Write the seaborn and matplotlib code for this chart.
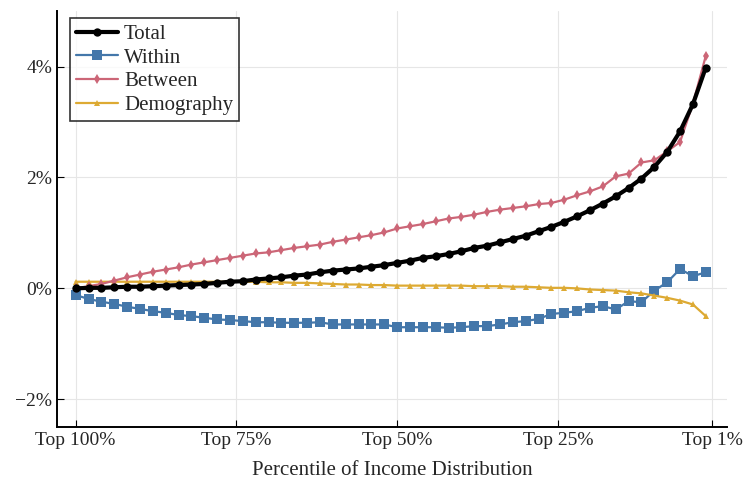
import numpy as np
import pandas as pd
import seaborn as sns
import matplotlib.pyplot as plt
from matplotlib.ticker import FuncFormatter

# ─── DATA ─────────────────────────────────────────
# x = 100 - top percentile (0 = Top 100%, 99 = Top 1%)
pctl = list(range(0, 100, 2))

total = [0.00, 0.01, 0.01, 0.02, 0.03, 0.03, 0.04, 0.05, 0.06, 0.07,
         0.08, 0.10, 0.12, 0.13, 0.16, 0.18, 0.20, 0.23, 0.25, 0.29,
         0.32, 0.34, 0.36, 0.39, 0.42, 0.46, 0.50, 0.55, 0.58, 0.62,
         0.67, 0.73, 0.77, 0.83, 0.89, 0.95, 1.03, 1.11, 1.20, 1.30,
         1.41, 1.53, 1.66, 1.81, 1.98, 2.19, 2.46, 2.83, 3.32, 3.98]

within = [-0.12, -0.19, -0.24, -0.28, -0.33, -0.37, -0.41, -0.44, -0.48, -0.50,
          -0.53, -0.56, -0.57, -0.59, -0.61, -0.61, -0.62, -0.62, -0.62, -0.61,
          -0.65, -0.65, -0.65, -0.65, -0.65, -0.70, -0.70, -0.70, -0.70, -0.71,
          -0.70, -0.68, -0.68, -0.65, -0.61, -0.59, -0.55, -0.46, -0.44, -0.41,
          -0.35, -0.32, -0.38, -0.23, -0.25, -0.04, 0.11, 0.35, 0.22, 0.29]

between = [0.00, 0.04, 0.08, 0.14, 0.20, 0.25, 0.30, 0.34, 0.38, 0.43,
           0.47, 0.51, 0.55, 0.59, 0.63, 0.65, 0.69, 0.73, 0.76, 0.79,
           0.84, 0.88, 0.92, 0.96, 1.01, 1.08, 1.12, 1.16, 1.21, 1.26,
           1.29, 1.33, 1.38, 1.42, 1.45, 1.48, 1.52, 1.54, 1.60, 1.68,
           1.75, 1.84, 2.02, 2.07, 2.27, 2.31, 2.47, 2.64, 3.33, 4.19]

demography = [0.12, 0.12, 0.12, 0.12, 0.12, 0.12, 0.12, 0.12, 0.12, 0.12,
              0.12, 0.12, 0.12, 0.12, 0.12, 0.11, 0.11, 0.10, 0.10, 0.09,
              0.08, 0.07, 0.07, 0.06, 0.06, 0.05, 0.05, 0.05, 0.05, 0.05,
              0.05, 0.04, 0.04, 0.04, 0.03, 0.03, 0.02, 0.01, 0.01, 0.00,
              -0.02, -0.03, -0.04, -0.07, -0.09, -0.13, -0.17, -0.22, -0.29, -0.50]

xtick_pos = [0, 25, 50, 75, 99]
xtick_labels = ["Top 100%", "Top 75%", "Top 50%", "Top 25%", "Top 1%"]
ytick_pos = [-2, 0, 2, 4]

# ─── STYLE ────────────────────────────────────────
sns.set_theme(style="ticks")
plt.rcParams["font.family"] = ["Liberation Serif", "DejaVu Serif"]

df = pd.DataFrame({"x": pctl, "Total": total, "Within": within,
                   "Between": between, "Demography": demography})

fig = plt.figure(figsize=(7.49, 4.82), dpi=100)
ax = fig.add_axes([0.0761, 0.114, 0.8945, 0.863])

ax.grid(True, color="#e6e6e6", linewidth=0.8, zorder=0)

sns.lineplot(data=df, x="x", y="Within", ax=ax, color="#4477AA",
             linewidth=1.6, marker="s", markersize=6.5,
             markeredgewidth=0, label="Within", zorder=3)
sns.lineplot(data=df, x="x", y="Between", ax=ax, color="#CC6677",
             linewidth=1.6, marker="d", markersize=5.5,
             markeredgewidth=0, label="Between", zorder=4)
sns.lineplot(data=df, x="x", y="Demography", ax=ax, color="#DDAA33",
             linewidth=1.6, marker="^", markersize=5,
             markeredgewidth=0, label="Demography", zorder=3)
sns.lineplot(data=df, x="x", y="Total", ax=ax, color="black",
             linewidth=3, marker="o", markersize=6,
             markeredgewidth=0, label="Total", zorder=5)

ax.set_xlim(-2.9, 101.3)
ax.set_ylim(-2.5, 5.0)
ax.set_xticks(xtick_pos)
ax.set_xticklabels(xtick_labels)
ax.set_yticks(ytick_pos)
ax.yaxis.set_major_formatter(FuncFormatter(
    lambda v, p: ("\u2212" if v < 0 else "") + f"{abs(v):.0f}%"))

ax.set_xlabel("Percentile of Income Distribution", fontsize=15, labelpad=9)
ax.set_ylabel("")
ax.tick_params(axis="both", direction="in", length=5, width=0.8,
               labelsize=14, color="black")

sns.despine(ax=ax)
for s in ["left", "bottom"]:
    ax.spines[s].set_linewidth(1.4)
    ax.spines[s].set_color("black")

# legend in the order Total, Within, Between, Demography
handles, labels = ax.get_legend_handles_labels()
order = [labels.index(n) for n in ["Total", "Within", "Between", "Demography"]]
leg = ax.legend([handles[i] for i in order], [labels[i] for i in order],
                loc="upper left", fontsize=15, frameon=True, fancybox=False,
                edgecolor="black", handlelength=2.0, borderpad=0.3,
                labelspacing=0.2, handletextpad=0.3, borderaxespad=0,
                bbox_to_anchor=(0.019, 0.983))
leg.get_frame().set_linewidth(1.2)

fig.savefig("out.png", dpi=100)
